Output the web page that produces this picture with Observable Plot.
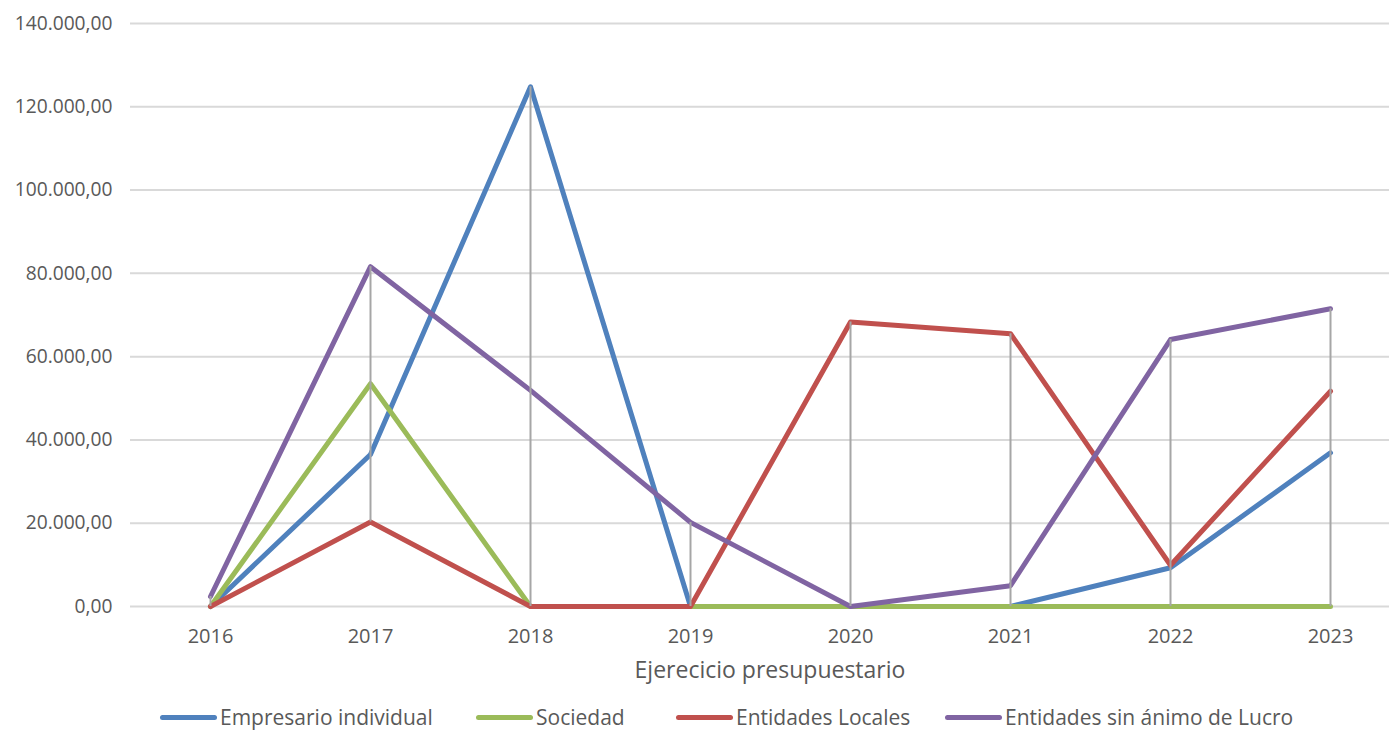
<!DOCTYPE html>
<html>
<head>
<meta charset="utf-8">
<script src="https://cdn.jsdelivr.net/npm/d3@7"></script>
<script src="https://cdn.jsdelivr.net/npm/@observablehq/plot@0.6"></script>
<style>
  body { margin: 0; background: #fff; font-family: "Open Sans", sans-serif; }
  #legend { height: 30px; font-size: 21px; color: #595959; position: relative; }
  .item { position: absolute; top: 0; height: 30px; display: flex; align-items: center; white-space: nowrap; }
  .sw { width: 57px; height: 5px; border-radius: 3px; margin-right: 3px; }
</style>
</head>
<body>
<div id="chart"></div>
<div id="legend"></div>
<script>
const years = [2016, 2017, 2018, 2019, 2020, 2021, 2022, 2023];
const seriesNames = ["Empresario individual", "Sociedad", "Entidades Locales", "Entidades sin ánimo de Lucro"];
const seriesColors = ["#4F81BD", "#9BBB59", "#C0504D", "#8064A2"];
const empresario = [0, 36500, 124800, 0, 0, 0, 9300, 36900];
const sociedad   = [0, 53500, 0, 0, 0, 0, 0, 0];
const locales    = [0, 20300, 0, 0, 68300, 65500, 9900, 51700];
const sinAnimo   = [2400, 81600, 51900, 20200, 0, 5000, 64100, 71500];
const yTicks = [0, 20000, 40000, 60000, 80000, 100000, 120000, 140000];
const xLabel = "Ejerecicio presupuestario";

const allSeries = [empresario, sociedad, locales, sinAnimo];
const data = allSeries.flatMap((vals, i) => vals.map((v, j) => ({year: years[j], value: v, series: seriesNames[i]})));
const hilo = years.map((y, j) => ({year: y, lo: d3.min(allSeries, s => s[j]), hi: d3.max(allSeries, s => s[j])}));

const es = d3.formatLocale({decimal: ",", thousands: ".", grouping: [3], currency: ["", " €"]});
const fmt = es.format(",.2f");

const plot = Plot.plot({
  width: 1389,
  height: 702,
  marginLeft: 130,
  marginRight: 0,
  marginTop: 23,
  marginBottom: 96,
  style: {fontFamily: "'Open Sans', sans-serif", fontSize: "18px", color: "#595959", background: "#fff"},
  x: {type: "point", domain: years, range: [210, 1330], padding: 0, label: null},
  y: {domain: [0, 140000], range: [606, 23], label: null},
  color: {domain: seriesNames, range: seriesColors},
  marks: [
    Plot.ruleY(yTicks, {stroke: "#D9D9D9", strokeWidth: 2}),
    Plot.axisY({ticks: yTicks, tickFormat: fmt, tickSize: 0, tickPadding: 18, fontSize: 19.2, fill: "#595959", label: null}),
    Plot.axisX({tickSize: 0, tickPadding: 22, fontSize: 20, fill: "#595959", tickFormat: d => String(d), label: null}),
    Plot.text([xLabel], {frameAnchor: "bottom", dy: 71, dx: 10, fontSize: 23, fill: "#595959"}),
    Plot.line(data, {x: "year", y: "value", z: "series", stroke: "series", strokeWidth: 5, strokeLinejoin: "round", strokeLinecap: "round"}),
    Plot.ruleX(hilo, {x: "year", y1: "lo", y2: "hi", stroke: "#A6A6A6", strokeWidth: 2})
  ]
});
document.getElementById("chart").appendChild(plot);

const legend = document.getElementById("legend");
const lefts = [160, 476, 676, 945];
seriesNames.forEach((n, i) => {
  const it = document.createElement("div");
  it.className = "item";
  it.style.left = lefts[i] + "px";
  const sw = document.createElement("span");
  sw.className = "sw";
  sw.style.background = seriesColors[i];
  it.appendChild(sw);
  it.appendChild(document.createTextNode(n));
  legend.appendChild(it);
});
</script>
</body>
</html>
